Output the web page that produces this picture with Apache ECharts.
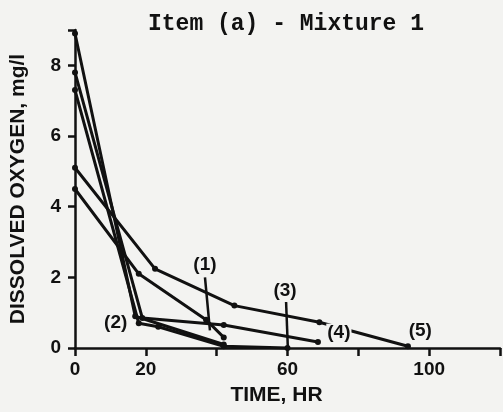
<!DOCTYPE html>
<html>
<head>
<meta charset="utf-8">
<script src="https://cdn.jsdelivr.net/npm/echarts@6/dist/echarts.min.js"></script>
<style>
  html, body { margin: 0; padding: 0; background: #f3f3f1; }
  #chart { width: 503px; height: 412px; }
</style>
</head>
<body>
<div id="chart"></div>
<script>
// time (hr) and dissolved oxygen (mg/l) for each run
const s1Time = [0, 18, 37, 42]
const s1Do = [4.5, 2.1, 0.8, 0.3]
const s2Time = [0, 17, 42]
const s2Do = [8.9, 0.9, 0.1]
const s3Time = [0, 18, 23.5, 42, 60]
const s3Do = [7.3, 0.7, 0.6, 0.05, 0]
const s4Time = [0, 19, 42, 68.6]
const s4Do = [7.8, 0.85, 0.65, 0.17]
const s5Time = [0, 22.6, 45, 69, 94]
const s5Do = [5.1, 2.24, 1.2, 0.73, 0.05]

const xTickLabels = [0, 20, 60, 100]
const yTickLabels = [0, 2, 4, 6, 8]

// curve labels and where they sit (data units)
const tagNames = ['(1)', '(2)', '(3)', '(4)', '(5)']
const tagX = [36.7, 11.5, 59.3, 74.5, 97.5]
const tagY = [2.35, 0.72, 1.62, 0.42, 0.5]

// leader lines from labels (1) and (3)
const leaders = [
  [[36.7, 2.0], [38.1, 0.5]],
  [[59.6, 1.3], [60.1, 0]],
]

const ink = '#111'
const paper = '#f3f3f1'
const font = '"Liberation Sans", Arial, sans-serif'

const pairs = (xs, ys) => xs.map((x, i) => [x, ys[i]])

function lineSeries(name, xs, ys) {
  return {
    name,
    type: 'line',
    data: pairs(xs, ys),
    symbol: 'circle',
    symbolSize: 6,
    lineStyle: { color: ink, width: 3 },
    itemStyle: { color: ink },
    clip: false,
    z: 3,
  }
}

const chart = echarts.init(document.getElementById('chart'))

chart.setOption({
  backgroundColor: paper,
  animation: false,
  title: {
    text: 'Item (a) - Mixture 1',
    left: 281,
    top: 8,
    textAlign: 'center',
    textStyle: {
      fontFamily: '"Liberation Mono", "DejaVu Sans Mono", monospace',
      fontSize: 23,
      fontWeight: 'bold',
      color: ink,
    },
  },
  grid: { left: 75, right: 3, top: 30, bottom: 64 },
  xAxis: {
    type: 'value',
    min: 0,
    max: 120,
    interval: 20,
    name: 'TIME, HR',
    nameLocation: 'middle',
    nameGap: 37,
    nameTextStyle: {
      fontFamily: font, fontSize: 21, fontWeight: 'bold', color: ink,
      padding: [0, 22, 0, 0],
    },
    axisLine: { lineStyle: { color: ink, width: 2.5 } },
    axisTick: { length: 8, lineStyle: { color: ink, width: 2.5 } },
    axisLabel: {
      fontFamily: font, fontSize: 19, fontWeight: 'bold', color: ink, margin: 12,
      formatter: (v) => (xTickLabels.includes(v) ? String(v) : ''),
    },
    splitLine: { show: false },
  },
  yAxis: {
    type: 'value',
    min: 0,
    max: 9,
    interval: 2,
    name: 'DISSOLVED OXYGEN, mg/l',
    nameLocation: 'middle',
    nameGap: 46,
    nameTextStyle: { fontFamily: font, fontSize: 21, fontWeight: 'bold', color: ink },
    axisLine: { lineStyle: { color: ink, width: 2.5 } },
    axisTick: { length: 7, lineStyle: { color: ink, width: 2.5 } },
    axisLabel: {
      fontFamily: font, fontSize: 19, fontWeight: 'bold', color: ink, margin: 14,
      formatter: (v) => (yTickLabels.includes(v) ? String(v) : ''),
    },
    splitLine: { show: false },
  },
  series: [
    lineSeries('1', s1Time, s1Do),
    lineSeries('2', s2Time, s2Do),
    lineSeries('3', s3Time, s3Do),
    lineSeries('4', s4Time, s4Do),
    lineSeries('5', s5Time, s5Do),
    {
      name: 'tags',
      type: 'scatter',
      data: pairs(tagX, tagY).map((p, i) => ({ value: p, name: tagNames[i] })),
      symbolSize: 0,
      clip: false,
      itemStyle: { opacity: 1 },
      label: {
        show: true,
        position: 'inside',
        formatter: (p) => p.name,
        fontFamily: font,
        fontSize: 19,
        fontWeight: 'bold',
        color: ink,
        opacity: 1,
        backgroundColor: paper,
        padding: [0, 1],
      },
      markLine: {
        silent: true,
        symbol: 'none',
        label: { show: false },
        lineStyle: { color: ink, width: 2.5, type: 'solid', opacity: 1 },
        data: leaders.map(([a, b]) => [{ coord: a }, { coord: b }]),
      },
      z: 5,
    },
  ],
})
</script>
</body>
</html>
